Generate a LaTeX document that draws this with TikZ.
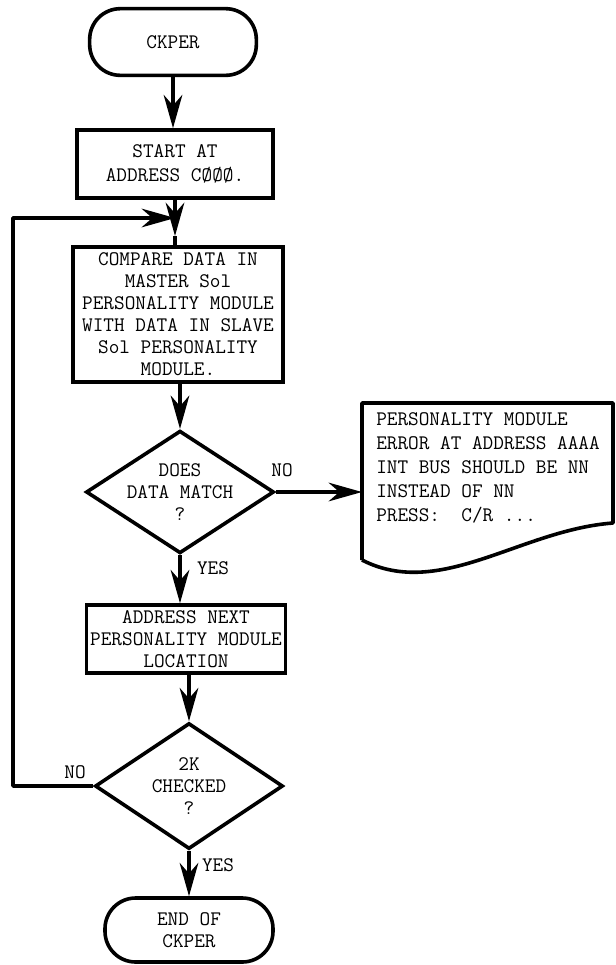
\documentclass[tikz,border=0pt]{standalone}
\usepackage{fontspec}
\usetikzlibrary{shapes.geometric,arrows.meta}
\begin{document}
\begin{tikzpicture}[x=0.75pt,y=-0.75pt,
  every node/.style={font=\ttfamily\fontsize{15.5}{16.5}\selectfont, inner sep=0pt},
  term/.style={draw, line width=2.7pt, rounded corners=23pt, align=center},
  proc/.style={draw, line width=2.7pt, align=center},
  dec/.style={draw, diamond, line width=2.7pt},
  flow/.style={line width=2.6pt, -{Stealth[length=25pt,width=14pt,inset=8pt]}},
  plain/.style={line width=2.6pt}]
\useasboundingbox (0,0) rectangle (616,965);

% main column
\node[term, minimum width=125pt, minimum height=50pt] (st) at (173,42) {CKPER};
\node[proc, minimum width=147pt, minimum height=51pt] (sa) at (175,164) {START AT\\[2pt]ADDRESS CØØØ.};
\node[proc, minimum width=157.5pt, minimum height=101pt] (cmp) at (178,314.5)
  {COMPARE DATA IN\\MASTER Sol\\PERSONALITY MODULE\\WITH DATA IN SLAVE\\Sol PERSONALITY\\MODULE.};
\node[dec, minimum width=141pt, minimum height=92pt] (d1) at (180,492) {};
\node[align=center] (d1t) at (d1.center) {DOES\\DATA MATCH\\?};
\node[proc, minimum width=149pt, minimum height=51pt] (adr) at (186,639)
  {ADDRESS NEXT\\PERSONALITY MODULE\\LOCATION};
\node[dec, minimum width=141pt, minimum height=94.5pt] (d2) at (189,786) {};
\node[align=center] (d2t) at (d2.center) {2K\\CHECKED\\?};
\node[term, minimum width=126pt, minimum height=48pt] (en) at (189,930) {END OF\\CKPER};

% error message document
\coordinate (dtl) at (362,403);
\draw[line width=2.7pt, line join=round]
  (362,560) -- (dtl) -- (613,403) -- (613,523)
  .. controls (520,530) and (440,600) .. (362,560);
\node[anchor=west, align=left, font=\ttfamily\fontsize{15.5}{18}\selectfont] (msg) at (376,468)
  {PERSONALITY MODULE\\ERROR AT ADDRESS AAAA\\INT BUS SHOULD BE NN\\INSTEAD OF NN\\PRESS:~~C/R~...};

% branch labels
\node (no1) at (282,470) {NO};
\node (yes1) at (213,568) {YES};
\node (no2) at (75,772) {NO};
\node (yes2) at (218,865) {YES};

% connectors
\coordinate (jn) at (175,218);
\coordinate (jd) at (175,236);
\coordinate (lb) at (13,786);
\coordinate (lt) at (13,218);
\draw[flow] (st.south) -- (st.south |- sa.north);
\draw[flow] (sa.south) -- (jd);
\draw[plain] (jd) -- (jd |- cmp.north);
\draw[flow] (cmp.south -| d1.north) -- (d1.north);
\draw[flow] (d1.east) -- (d1.east -| dtl);
\draw[flow] (d1.south) -- (d1.south |- adr.north);
\draw[flow] (adr.south -| d2.north) -- (d2.north);
\draw[flow] (d2.south) -- (en.north);
\draw[flow, line join=round] (d2.west) -- (lb) -- (lt) -- (jn);
\end{tikzpicture}
\end{document}
